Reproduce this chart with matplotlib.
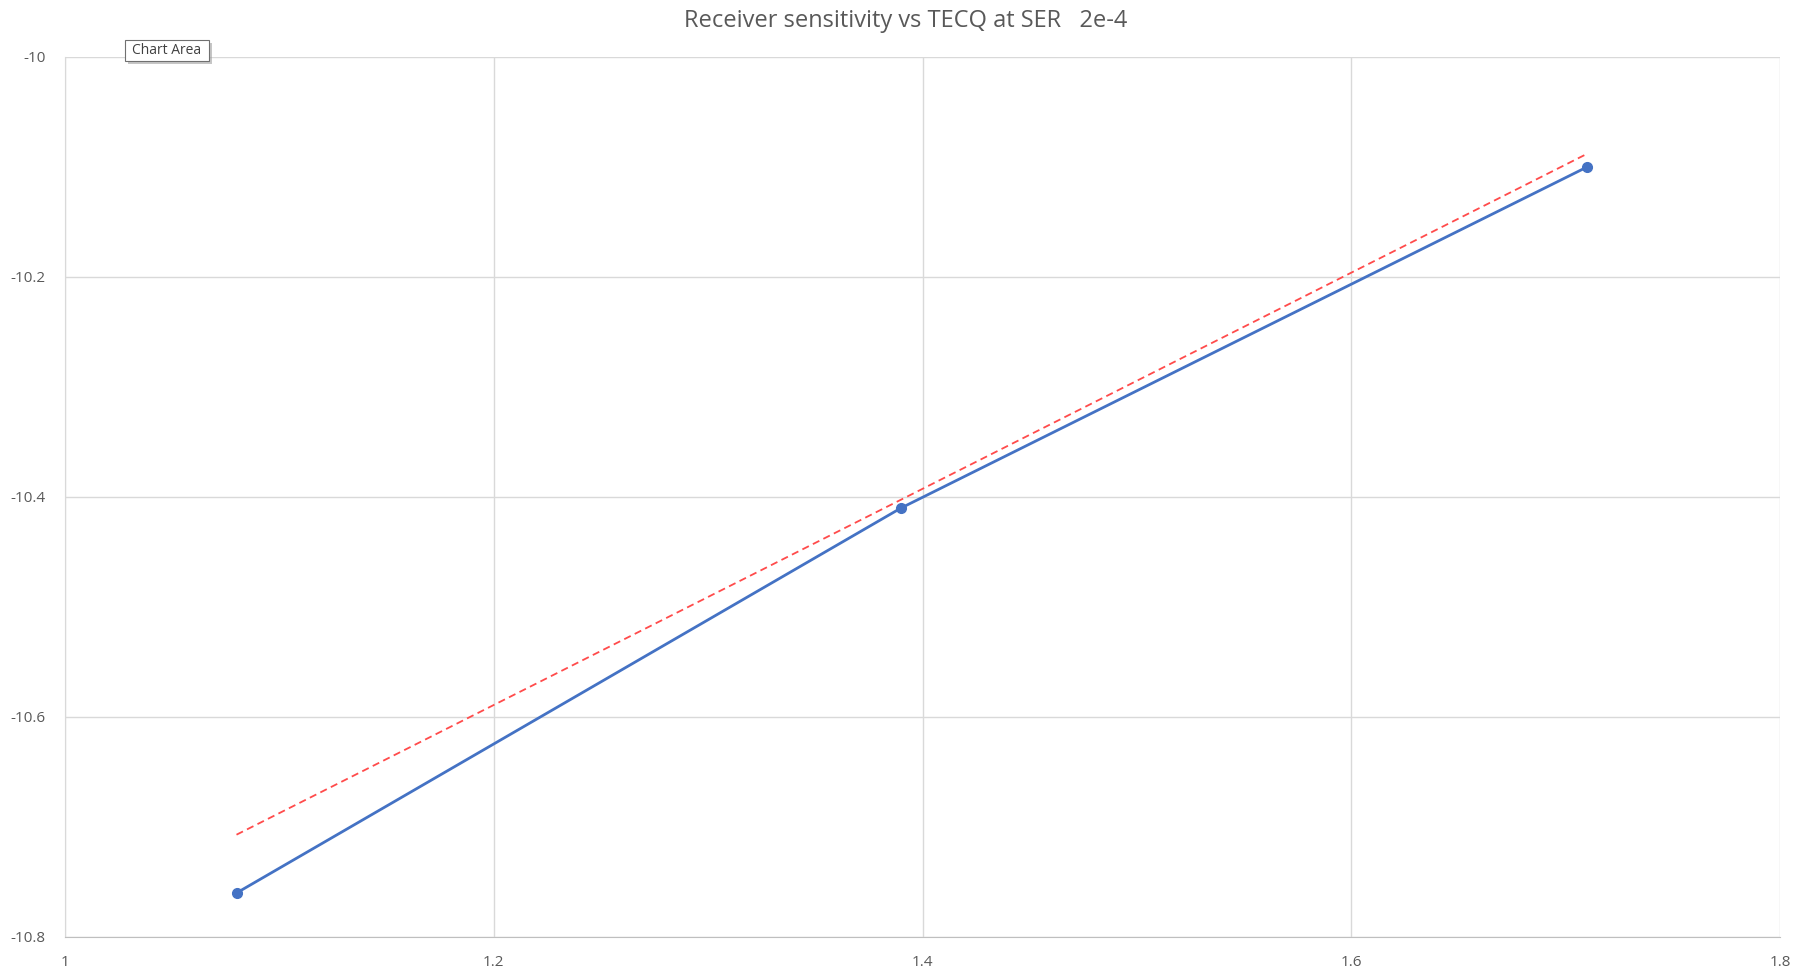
import matplotlib.pyplot as plt
from matplotlib.patches import Rectangle

# Data
tecq = [1.08, 1.39, 1.71]
sensitivity = [-10.76, -10.41, -10.10]

# Red dashed reference line end points
ref_x = [1.08, 1.71]
ref_y = [-10.707, -10.088]

x_ticks = [1, 1.2, 1.4, 1.6, 1.8]
y_ticks = [-10.8, -10.6, -10.4, -10.2, -10]
x_labels = ["1", "1.2", "1.4", "1.6", "1.8"]
y_labels = ["-10.8", "-10.6", "-10.4", "-10.2", "-10"]

plt.rcParams['font.family'] = ['Open Sans', 'DejaVu Sans']

fig = plt.figure(figsize=(17.98, 9.71), dpi=100)
ax = fig.add_axes([65 / 1798, 1 - 937 / 971, (1780 - 65) / 1798, (937 - 57) / 971])

ax.plot(tecq, sensitivity, color="#4472C4", linewidth=2, marker="o",
        markersize=7, zorder=3)
ax.plot(ref_x, ref_y, color="#FF4B4B", linewidth=1.3, linestyle=(0, (4, 2.5)),
        zorder=4)

ax.set_xlim(1, 1.8)
ax.set_ylim(-10.8, -10)
ax.set_xticks(x_ticks)
ax.set_xticklabels(x_labels)
ax.set_yticks(y_ticks)
ax.set_yticklabels(y_labels)

ax.grid(True, color="#D9D9D9", linewidth=1)
ax.set_axisbelow(True)
for side in ["top", "right"]:
    ax.spines[side].set_visible(False)
ax.spines["left"].set_color("#D9D9D9")
ax.spines["bottom"].set_color("#BFBFBF")
ax.tick_params(length=0, labelsize=11, labelcolor="#595959")
ax.tick_params(axis="y", pad=14)
ax.tick_params(axis="x", pad=13)

fig.text(906 / 1798, 1 - 21 / 971, "Receiver sensitivity vs TECQ at SER   2e-4",
         ha="center", va="center", fontsize=17, color="#595959")

# "Chart Area" tooltip with a small drop shadow
fig.patches.append(Rectangle((128 / 1798, 1 - 64 / 971), 84 / 1798, 21 / 971,
                             transform=fig.transFigure, facecolor="#A0A0A0",
                             edgecolor="none", alpha=0.6))
fig.patches.append(Rectangle((125 / 1798, 1 - 61 / 971), 84 / 1798, 21 / 971,
                             transform=fig.transFigure, facecolor="white",
                             edgecolor="#707070", linewidth=0.8))
fig.text(167 / 1798, 1 - 50.5 / 971, "Chart Area", ha="center", va="center",
         fontsize=10, color="#404040")

plt.savefig("out.png", dpi=100)
